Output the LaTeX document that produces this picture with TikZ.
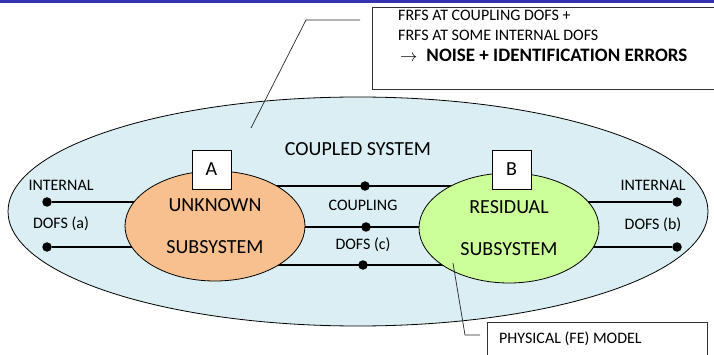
\documentclass[tikz,border=0pt]{standalone}
\usepackage{fontspec}
\setmainfont{Carlito}
\usetikzlibrary{
		calc,
		positioning,
		shapes.geometric,
		backgrounds
	}
\definecolor{barblue}{RGB}{51,51,178}
\definecolor{skyfill}{HTML}{DAEEF3}
\definecolor{unkfill}{HTML}{F9C08F}
\definecolor{resfill}{HTML}{CCFF99}
\tikzset{
		>=stealth,
		dof/.style={circle, fill=black, inner sep=0pt, minimum size=9.5pt},
		sub/.style={ellipse, draw, line width=0.8pt, inner sep=0pt,
			minimum width=180pt, minimum height=110pt, align=center,
			font=\fontsize{20}{42}\selectfont},
		tag/.style={draw, line width=0.6pt, fill=white, minimum size=39pt,
			inner sep=0pt, font=\fontsize{20}{24}\selectfont},
		lbl/.style={inner sep=0pt, font=\fontsize{16}{19}\selectfont},
		wire/.style={line width=1.3pt},
		callout/.style={line width=0.7pt, black!85}
	}

\begin{document}
\begin{tikzpicture}[x=1pt, y=-1pt]
          \useasboundingbox (0,0) rectangle (714,355);
          \fill[barblue] (0,0) rectangle (714,3.5);

          % subsystems
          \node[sub, fill=unkfill] (unk) at (215,226) {UNKNOWN\\SUBSYSTEM};
          \node[sub, fill=resfill] (res) at (509,228) {RESIDUAL\\SUBSYSTEM};
          \node[tag] (tagA) at (211.5,169.5) {A};
          \node[tag] (tagB) at (511.5,169.5) {B};
          \node[font=\fontsize{20}{24}\selectfont, inner sep=0pt] (cpl) at (358,149) {COUPLED SYSTEM};

          % dofs
          \node[dof] (ia1) at (47,202) {};
          \node[dof] (ia2) at (47,247) {};
          \node[dof] (ib1) at (677,202) {};
          \node[dof] (ib2) at (677,247) {};
          \node[dof] (cc1) at (365,186) {};
          \node[dof] (cc2) at (366,227) {};
          \node[dof] (cc3) at (363,265) {};

          \node[lbl] (inta) at (61,185) {INTERNAL};
          \node[lbl] (dofa) at (61,224) {DOFS (a)};
          \node[lbl] (intb) at (653,185) {INTERNAL};
          \node[lbl] (dofb) at (653,225) {DOFS (b)};
          \node[lbl] (cplg) at (363,205) {COUPLING};
          \node[lbl] (dofc) at (363,245) {DOFS (c)};

          \begin{scope}[on background layer]
          \node[ellipse, draw, line width=0.8pt, fill=skyfill, inner sep=0pt,
            minimum width=700pt, minimum height=229pt] (cs) at (358,211.5) {};
          \draw[wire] (ia1) -- (ia1 -| unk);
          \draw[wire] (ia2) -- (ia2 -| unk);
          \draw[wire] (ib1) -- (ib1 -| res);
          \draw[wire] (ib2) -- (ib2 -| res);
          \draw[wire] (unk |- cc1) -- (res |- cc1);
          \draw[wire] (unk |- cc2) -- (res |- cc2);
          \draw[wire] (unk |- cc3) -- (res |- cc3);
          \end{scope}

          % callouts
          \node[draw, black!80, line width=0.7pt, fill=white, anchor=north west,
            minimum width=400pt, minimum height=82pt] (frf) at (372,7) {};
          \node[lbl, anchor=west] (frf1) at (398,15) {FRFS AT COUPLING DOFS +};
          \node[lbl, anchor=west] (frf2) at (398,35) {FRFS AT SOME INTERNAL DOFS};
          \node[lbl, anchor=west] (frf3) at (400,55)
            {$\rightarrow$\hspace{9pt}{\fontsize{19}{22}\selectfont\bfseries NOISE + IDENTIFICATION ERRORS}};
          \coordinate (frfa) at (360,20);
          \coordinate (frfb) at (306,20);
          \coordinate (frfc) at (251,128);
          \draw[callout] (frfa) -- (frfb) -- (frfc);

          \node[draw, black!80, line width=0.7pt, fill=white, anchor=north west,
            minimum width=220pt, minimum height=50pt] (fem) at (487,322) {};
          \node[lbl, anchor=west] (femt) at (499,339) {PHYSICAL (FE) MODEL};
          \coordinate (fema) at (453,263);
          \coordinate (femb) at (465,335);
          \coordinate (femc) at (480,335);
          \draw[callout] (fema) -- (femb) -- (femc);

          \end{tikzpicture}
\end{document}
